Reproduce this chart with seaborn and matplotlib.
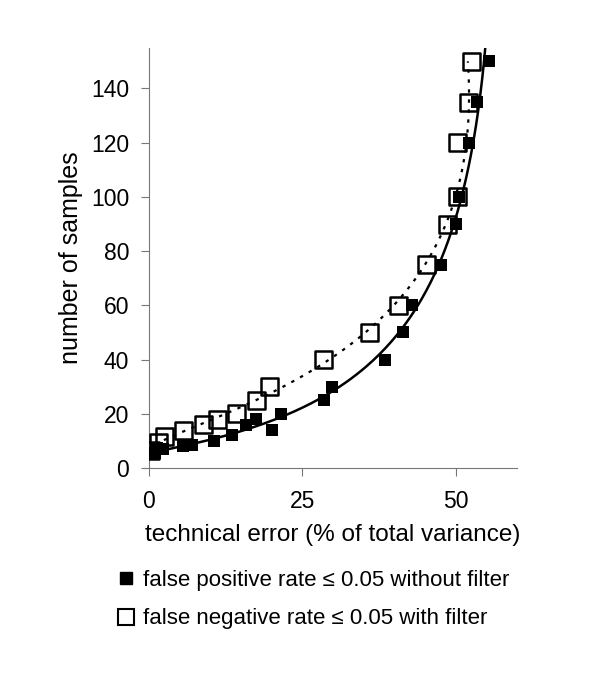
import matplotlib
matplotlib.use("Agg")
import matplotlib.pyplot as plt
import seaborn as sns
import numpy as np
import pandas as pd
from matplotlib.lines import Line2D

# values
fp_error = [1.0, 1.3, 2.3, 5.5, 7.1, 10.6, 13.6, 15.9, 17.5, 20.1, 21.6, 28.6, 29.9,
            38.5, 41.4, 42.9, 47.6, 50.0, 50.6, 52.1, 53.4, 55.4]
fp_samples = [5.5, 7.4, 7, 8, 8.5, 10, 12, 16, 18, 14, 20, 25, 30,
              40, 50, 60, 75, 90, 100, 120, 135, 150]

fn_error = [0.2, 1.5, 2.6, 5.7, 8.9, 11.2, 14.3, 17.5, 19.6, 28.4, 35.9, 40.7,
            45.3, 48.7, 50.2, 50.2, 52.1, 52.6]
fn_samples = [6.5, 9.3, 11.5, 14, 16, 18, 20, 25, 30, 40, 50, 60,
              75, 90, 100, 120, 135, 150]

fp_label = "false positive rate \u2264 0.05 without filter"
fn_label = "false negative rate \u2264 0.05 with filter"

df_fp = pd.DataFrame({"error": fp_error, "samples": fp_samples})
df_fn = pd.DataFrame({"error": fn_error, "samples": fn_samples})

sns.set_style("ticks")
plt.rcParams["font.family"] = ["Liberation Sans", "DejaVu Sans"]
plt.rcParams["text.color"] = "black"
plt.rcParams["axes.labelcolor"] = "black"

fig = plt.figure(figsize=(6, 6.98), dpi=100)
ax = fig.add_axes([0.248, 0.3295, 0.614, 0.602])

# trend curves: error fitted as a polynomial in log(samples)
def trend(df, y_lo, y_hi, deg):
    coef = np.polyfit(np.log(df["samples"]), df["error"], deg)
    yy = np.linspace(y_lo, y_hi, 200)
    return np.polyval(coef, np.log(yy)), yy

x_fp, y_fp = trend(df_fp, 5, 155, 4)
x_fn, y_fn = trend(df_fn, 6, 150, 4)
ax.plot(x_fp, y_fp, color="black", lw=1.8, zorder=2)
ax.plot(x_fn, y_fn, color="black", lw=1.6, ls=(0, (1.5, 3)), zorder=2)

sns.scatterplot(data=df_fp, x="error", y="samples", marker="s", s=75,
                color="black", edgecolor="black", linewidth=0, ax=ax, zorder=3)
sns.scatterplot(data=df_fn, x="error", y="samples", marker="s", s=150,
                facecolor="none", edgecolor="black", linewidth=1.8, ax=ax, zorder=4)

ax.set_xlim(0, 60)
ax.set_ylim(0, 155)
ax.set_xticks([0, 25, 50])
ax.set_yticks(range(0, 141, 20))
ax.tick_params(labelsize=16.5, length=6, width=0.8, color="#777777", labelcolor="black")
ax.tick_params(axis="x", pad=10)
ax.tick_params(axis="y", pad=8)
for sp in ["left", "bottom"]:
    ax.spines[sp].set_color("#777777")
    ax.spines[sp].set_linewidth(0.8)
sns.despine(ax=ax)
ax.set_xlabel("technical error (% of total variance)", fontsize=17.5, labelpad=8)
ax.set_ylabel("number of samples", fontsize=18, labelpad=6)

handles = [
    Line2D([], [], ls="none", marker="s", ms=8, color="black"),
    Line2D([], [], ls="none", marker="s", ms=11, mfc="none", mec="black", mew=1.5),
]
fig.legend(handles, [fp_label, fn_label], loc="upper left",
           bbox_to_anchor=(0.177, 0.2), frameon=False, fontsize=16,
           handlelength=0.8, handletextpad=0.35, labelspacing=0.8, borderpad=0,
           labelcolor="black")

fig.savefig("out.png", dpi=100)
